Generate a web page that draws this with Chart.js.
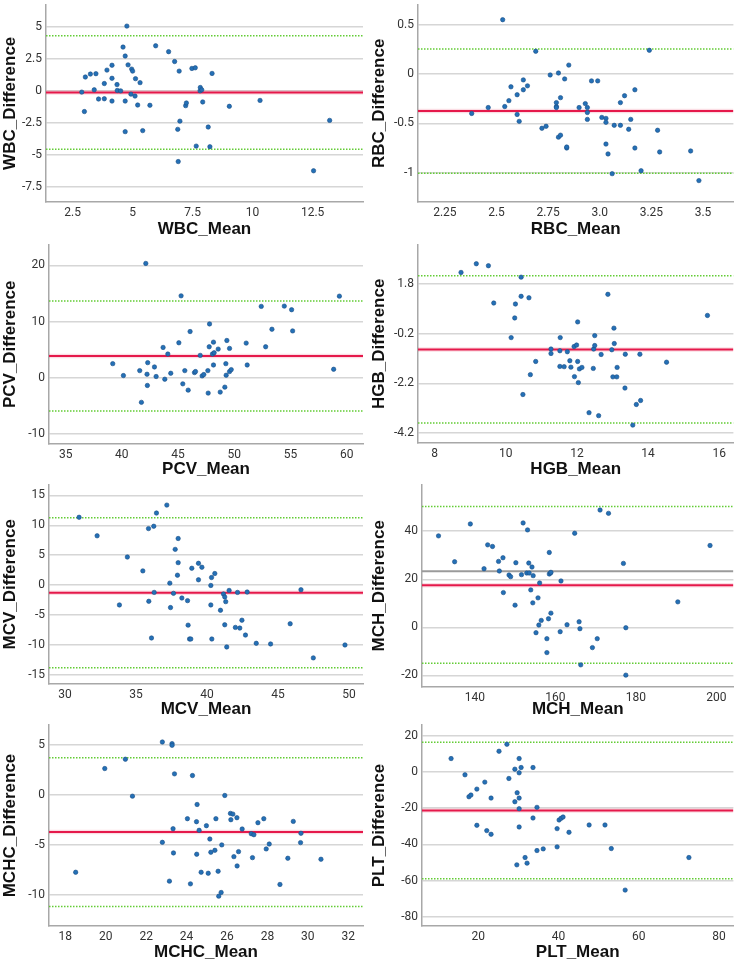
<!DOCTYPE html>
<html>
<head>
<meta charset="utf-8">
<script src="https://cdn.jsdelivr.net/npm/chart.js@4.4.1/dist/chart.umd.min.js"></script>
<style>
    html, body { margin: 0; padding: 0; background: #fff; }
    #wrap { position: relative; width: 738px; height: 963px; overflow: hidden; }
    .panel { position: absolute; }
</style>
</head>
<body>
<div id="wrap"></div>
<script>
// ---- WBC ----
const wbcMean = [2.88,2.99,3.03,3.24,3.40,3.47,3.58,3.82,3.82,3.93,4.14,4.14,4.14,4.35,4.36,4.50,4.60,4.69,4.69,4.69,4.76,4.81,4.93,4.96,5.00,5.10,5.12,5.21,5.31,5.42,5.72,5.96,6.50,6.75,6.88,6.90,6.94,6.97,7.21,7.24,7.47,7.61,7.65,7.81,7.82,7.88,7.92,8.15,8.22,8.31,9.03,10.31,12.54,13.21];
const wbcDiff = [-0.10,-1.62,1.08,1.31,0.08,1.34,-0.64,0.57,-0.62,1.62,2.00,0.98,-0.80,0.49,0.03,0.00,3.42,2.72,-0.80,-3.19,5.06,2.03,-0.26,1.70,1.54,-0.41,0.95,-1.11,0.64,-3.11,-1.13,3.52,3.06,2.29,-3.01,-5.53,1.54,-2.37,-1.16,-0.95,1.75,1.80,-4.32,0.00,0.26,0.08,-0.87,-2.83,-4.37,1.36,-1.21,-0.75,-6.25,-2.31];
const wbcLimits = [4.31, -0.13, -4.56];          // upper LoA, mean, lower LoA
const wbcXRange = [1.39, 14.6];
const wbcYRange = [-8.69, 6.74];
const wbcXTicks = [2.5, 5, 7.5, 10, 12.5];
const wbcXLabels = ['2.5', '5', '7.5', '10', '12.5'];
const wbcYTicks = [5, 2.5, 0, -2.5, -5, -7.5];
const wbcYLabels = ['5', '2.5', '0', '-2.5', '-5', '-7.5'];

// ---- RBC ----
const rbcMean = [2.38,2.46,2.53,2.54,2.56,2.57,2.60,2.60,2.61,2.63,2.63,2.65,2.69,2.72,2.74,2.76,2.79,2.79,2.79,2.80,2.81,2.80,2.81,2.83,2.84,2.84,2.85,2.90,2.93,2.94,2.94,2.94,2.96,2.99,3.01,3.03,3.03,3.03,3.04,3.06,3.07,3.10,3.10,3.12,3.14,3.15,3.17,3.17,3.20,3.24,3.28,3.29,3.44,3.48];
const rbcDiff = [-0.40,-0.34,0.55,-0.33,-0.27,-0.13,-0.21,-0.41,-0.48,-0.06,-0.16,-0.12,0.23,-0.55,-0.53,-0.01,-0.29,-0.33,-0.34,0.01,-0.24,-0.64,-0.62,-0.05,-0.75,-0.74,0.09,-0.34,-0.30,-0.39,-0.34,-0.46,-0.07,-0.07,-0.44,-0.45,-0.49,-0.71,-0.81,-1.01,-0.52,-0.52,-0.29,-0.22,-0.56,-0.46,-0.16,-0.75,-0.98,0.24,-0.57,-0.79,-0.78,-1.08];
const rbcLimits = [0.253, -0.376, -1.005];
const rbcXRange = [2.12, 3.647];
const rbcYRange = [-1.297, 0.703];
const rbcXTicks = [2.25, 2.5, 2.75, 3.0, 3.25, 3.5];
const rbcXLabels = ['2.25', '2.5', '2.75', '3.0', '3.25', '3.5'];
const rbcYTicks = [0.5, 0, -0.5, -1];
const rbcYLabels = ['0.5', '0', '-0.5', '-1'];

// ---- PCV ----
const pcvMean = [39.19,40.14,41.59,41.74,42.13,42.24,42.27,42.30,42.90,43.05,43.67,43.82,44.09,44.35,45.07,45.27,45.42,45.60,45.90,46.07,46.46,46.55,46.97,47.14,47.29,47.65,47.68,47.77,47.80,48.06,48.15,48.15,48.21,48.57,48.75,49.16,49.25,49.28,49.34,49.58,49.58,49.73,51.06,51.15,52.40,52.79,53.35,54.45,55.10,55.19,58.84,59.35];
const pcvDiff = [2.53,0.41,1.29,-4.35,20.35,0.65,-1.35,2.71,1.94,0.24,5.41,-0.24,4.24,0.82,6.24,14.59,-1.06,1.29,-2.18,8.24,0.94,1.12,4.00,0.35,0.59,1.29,-2.71,5.53,9.59,4.24,6.35,2.29,4.47,5.12,-2.53,-1.65,2.53,0.47,6.65,5.24,1.12,1.47,6.18,2.29,12.71,5.53,8.65,12.76,12.12,8.35,1.53,14.53];
const pcvLimits = [13.65, 3.88, -5.89];
const pcvXRange = [33.52, 61.45];
const pcvYRange = [-11.76, 23.7];
const pcvXTicks = [35, 40, 45, 50, 55, 60];
const pcvXLabels = ['35', '40', '45', '50', '55', '60'];
const pcvYTicks = [20, 10, 0, -10];
const pcvYLabels = ['20', '10', '0', '-10'];

// ---- HGB ----
const hgbMean = [8.74,9.17,9.51,9.66,10.15,10.25,10.27,10.43,10.43,10.48,10.65,10.69,10.84,11.27,11.27,11.52,11.52,11.53,11.64,11.73,11.80,11.83,11.92,11.93,11.99,12.02,12.02,12.04,12.07,12.14,12.34,12.46,12.47,12.50,12.50,12.61,12.68,12.87,12.98,13.01,13.04,13.05,13.12,13.13,13.35,13.36,13.57,13.67,13.77,13.79,14.52,15.67];
const hgbDiff = [2.26,2.61,2.53,1.03,-0.36,0.43,0.99,2.07,1.30,-2.65,1.24,-1.85,-1.32,-0.82,-1.00,-1.52,-0.89,-0.36,-1.53,-0.93,-1.29,-1.55,-0.72,-1.93,-0.66,0.27,-1.32,-2.17,-1.62,-1.56,-3.38,-1.60,-0.82,-0.28,-0.68,-3.50,-1.04,1.38,-0.85,-1.94,0.02,-0.60,-1.94,-1.56,-2.39,-1.03,-3.88,-3.05,-1.03,-2.89,-1.35,0.53];
const hgbLimits = [2.13, -0.835, -3.80];
const hgbXRange = [7.53, 16.40];
const hgbYRange = [-4.6, 3.38];
const hgbXTicks = [8, 10, 12, 14, 16];
const hgbXLabels = ['8', '10', '12', '14', '16'];
const hgbYTicks = [1.8, -0.2, -2.2, -4.2];
const hgbYLabels = ['1.8', '-0.2', '-2.2', '-4.2'];

// ---- MCV ----
const mcvMean = [30.99,32.26,33.83,34.39,35.48,35.88,35.90,36.09,36.25,36.28,36.44,37.17,37.38,37.43,37.64,37.76,37.92,37.97,37.97,38.23,38.63,38.67,38.77,38.86,38.93,39.40,39.40,39.64,40.27,40.27,40.32,40.34,40.55,40.95,41.16,41.25,41.25,41.32,41.39,41.56,42.00,42.15,42.31,42.46,42.71,42.83,43.47,44.48,45.86,46.62,47.49,49.72];
const mcvDiff = [11.35,8.25,-3.32,4.70,2.38,9.46,-2.71,-8.85,9.85,-1.22,12.06,13.39,0.33,-3.76,-1.38,5.98,1.66,7.80,3.76,-2.16,-2.60,-6.70,-9.02,-9.02,2.82,3.65,0.89,2.99,-0.06,-3.32,1.27,-9.02,1.94,-4.21,-1.49,-1.99,-6.64,-2.77,-10.35,-0.89,-7.08,-1.22,-7.19,-5.87,-8.36,-1.16,-9.74,-9.85,-6.47,-0.77,-12.18,-10.02];
const mcvLimits = [11.29, -1.30, -13.84];
const mcvXRange = [28.87, 50.99];
const mcvYRange = [-16.55, 16.82];
const mcvXTicks = [30, 35, 40, 45, 50];
const mcvXLabels = ['30', '35', '40', '45', '50'];
const mcvYTicks = [15, 10, 5, 0, -5, -10, -15];
const mcvYLabels = ['15', '10', '5', '0', '-5', '-10', '-15'];

// ---- MCH ----
const mchMean = [131.0,135.0,138.9,142.3,143.2,144.4,145.9,146.1,147.0,147.1,148.5,148.9,150.0,150.2,151.6,152.0,152.9,153.1,153.4,153.5,153.9,154.2,154.4,154.5,155.2,155.7,155.9,156.1,156.5,157.9,157.9,158.3,158.5,158.5,158.8,158.9,158.9,161.2,161.4,162.9,164.8,165.9,166.1,166.3,169.2,170.4,171.1,173.2,176.9,177.5,177.5,190.4,198.4];
const mchDiff = [38.07,27.31,43.03,24.41,34.34,33.66,27.45,23.45,28.97,14.48,21.79,21.10,9.24,26.90,21.93,43.45,22.62,40.55,26.76,22.62,15.59,25.10,10.21,21.52,-2.21,12.28,0.97,18.48,2.90,-4.69,-10.48,3.59,22.21,31.17,22.62,22.90,5.93,-1.79,19.31,1.10,39.17,2.34,-0.55,-15.59,-8.41,-4.69,48.83,47.45,26.62,-0.14,-19.86,10.62,34.07];
const mchLimits = [50.3, 17.5, -14.9];
const mchRefLine = [23.4];
const mchXRange = [126.9, 204.2];
const mchYRange = [-24.8, 59.4];
const mchXTicks = [140, 160, 180, 200];
const mchXLabels = ['140', '160', '180', '200'];
const mchYTicks = [40, 20, 0, -20];
const mchYLabels = ['40', '20', '0', '-20'];

// ---- MCHC ----
const mchcMean = [18.51,19.95,20.97,21.32,22.80,22.80,23.15,23.28,23.28,23.33,23.35,23.40,24.04,24.19,24.29,24.49,24.50,24.52,24.62,24.72,24.98,25.07,25.15,25.20,25.40,25.45,25.56,25.59,25.71,25.74,25.89,26.17,26.19,26.29,26.34,26.49,26.50,26.57,26.75,27.20,27.26,27.33,27.53,27.82,27.94,28.09,28.62,29.01,29.28,29.66,29.64,30.65];
const mchcDiff = [-7.72,2.64,3.57,-0.12,5.29,-4.73,-8.61,5.13,4.96,-3.37,-5.79,2.11,-2.37,-8.88,1.94,-2.67,-5.92,-0.95,-3.53,-7.72,-3.07,-7.82,-4.40,-5.72,-5.53,-2.37,-7.62,-10.11,-9.74,-4.99,-0.05,-1.84,-2.47,-1.91,-6.16,-2.27,-7.09,-5.66,-3.40,-3.87,-6.26,-3.97,-2.77,-2.37,-5.39,-4.90,-8.94,-6.32,-2.64,-3.83,-4.76,-6.42];
const mchcLimits = [3.73, -3.69, -11.13];
const mchcXRange = [17.19, 32.73];
const mchcYRange = [-13.09, 6.99];
const mchcXTicks = [18, 20, 22, 24, 26, 28, 30, 32];
const mchcXLabels = ['18', '20', '22', '24', '26', '28', '30', '32'];
const mchcYTicks = [5, 0, -5, -10];
const mchcYLabels = ['5', '0', '-5', '-10'];

// ---- PLT ----
const pltMean = [13.25,16.71,17.70,18.19,19.67,19.67,21.65,22.14,23.21,23.21,25.19,27.16,27.65,29.14,29.14,29.63,29.71,30.21,30.21,30.21,30.21,30.21,30.70,31.69,32.18,33.66,33.66,34.65,34.65,36.21,39.67,39.67,40.16,40.66,41.15,42.63,47.65,51.60,53.17,56.63,72.51];
const pltDiff = [7.36,-1.61,-13.70,-12.78,-9.49,-29.45,-5.64,-32.38,-14.43,-34.40,11.39,15.24,-3.63,1.50,-16.45,-51.25,-11.50,-14.43,7.36,-0.51,-20.29,-30.37,2.42,-47.22,-50.33,2.42,-25.42,-19.56,-43.37,-42.45,-41.34,-31.28,-26.52,-25.60,-24.87,-33.30,-29.27,-29.27,-42.27,-65.17,-47.22];
const pltLimits = [16.34, -21.3, -58.94];
const pltXRange = [6.0, 83.6];
const pltYRange = [-84.98, 25.86];
const pltXTicks = [20, 40, 60, 80];
const pltXLabels = ['20', '40', '60', '80'];
const pltYTicks = [20, 0, -20, -40, -60, -80];
const pltYLabels = ['20', '0', '-20', '-40', '-60', '-80'];

const panels = [
    { name: 'WBC',  x: wbcMean,  y: wbcDiff,  lim: wbcLimits,  xr: wbcXRange,  yr: wbcYRange,  xt: wbcXTicks,  xl: wbcXLabels,  yt: wbcYTicks,  yl: wbcYLabels },
    { name: 'RBC',  x: rbcMean,  y: rbcDiff,  lim: rbcLimits,  xr: rbcXRange,  yr: rbcYRange,  xt: rbcXTicks,  xl: rbcXLabels,  yt: rbcYTicks,  yl: rbcYLabels },
    { name: 'PCV',  x: pcvMean,  y: pcvDiff,  lim: pcvLimits,  xr: pcvXRange,  yr: pcvYRange,  xt: pcvXTicks,  xl: pcvXLabels,  yt: pcvYTicks,  yl: pcvYLabels },
    { name: 'HGB',  x: hgbMean,  y: hgbDiff,  lim: hgbLimits,  xr: hgbXRange,  yr: hgbYRange,  xt: hgbXTicks,  xl: hgbXLabels,  yt: hgbYTicks,  yl: hgbYLabels },
    { name: 'MCV',  x: mcvMean,  y: mcvDiff,  lim: mcvLimits,  xr: mcvXRange,  yr: mcvYRange,  xt: mcvXTicks,  xl: mcvXLabels,  yt: mcvYTicks,  yl: mcvYLabels },
    { name: 'MCH',  x: mchMean,  y: mchDiff,  lim: mchLimits,  xr: mchXRange,  yr: mchYRange,  xt: mchXTicks,  xl: mchXLabels,  yt: mchYTicks,  yl: mchYLabels, ref: mchRefLine },
    { name: 'MCHC', x: mchcMean, y: mchcDiff, lim: mchcLimits, xr: mchcXRange, yr: mchcYRange, xt: mchcXTicks, xl: mchcXLabels, yt: mchcYTicks, yl: mchcYLabels },
    { name: 'PLT',  x: pltMean,  y: pltDiff,  lim: pltLimits,  xr: pltXRange,  yr: pltYRange,  xt: pltXTicks,  xl: pltXLabels,  yt: pltYTicks,  yl: pltYLabels }
];

// panel boxes on the page and the plot area inside each (left, top, right, bottom)
const boxes = [
    { x: 0,   y: 0,   w: 369, h: 240, area: [46, 2, 363, 202] },
    { x: 369, y: 0,   w: 369, h: 240, area: [49, 2, 367, 202] },
    { x: 0,   y: 240, w: 369, h: 240, area: [49, 3, 363, 204] },
    { x: 369, y: 240, w: 369, h: 240, area: [49, 3, 367, 203] },
    { x: 0,   y: 480, w: 369, h: 240, area: [49, 3, 363, 204] },
    { x: 369, y: 480, w: 369, h: 240, area: [53, 3, 367, 207] },
    { x: 0,   y: 718, w: 369, h: 245, area: [49, 7, 363, 208] },
    { x: 369, y: 718, w: 369, h: 245, area: [53, 7, 367, 208] }
];

const TICK_FONT = { family: "'Liberation Sans Narrow', Roboto, sans-serif", size: 12 };
const TITLE_FONT = { family: "'Liberation Sans', Arial, sans-serif", size: 17, weight: 'bold' };

function hLine(p, v) {
    return [{ x: p.xr[0], y: v }, { x: p.xr[1], y: v }];
}

function makeChart(p, box) {
    const wrap = document.getElementById('wrap');
    const div = document.createElement('div');
    div.className = 'panel';
    div.style.left = box.x + 'px';
    div.style.top = box.y + 'px';
    div.style.width = box.w + 'px';
    div.style.height = box.h + 'px';
    const cv = document.createElement('canvas');
    div.appendChild(cv);
    wrap.appendChild(div);

    const [aL, aT, aR, aB] = box.area;
    const lineBase = { showLine: true, pointRadius: 0, fill: false };

    const datasets = [
        {
            data: p.x.map((v, i) => ({ x: v, y: p.y[i] })),
            pointRadius: 2.2,
            pointBackgroundColor: '#2470b6',
            pointBorderColor: '#1b4f86',
            pointBorderWidth: 0.6,
            order: 0
        },
        { ...lineBase, data: hLine(p, p.lim[1]), borderColor: '#e5194b', borderWidth: 2, order: 1 },
        { ...lineBase, data: hLine(p, p.lim[1]), borderColor: 'rgba(229,25,75,0.15)', borderWidth: 4.5, order: 2 },
        { ...lineBase, data: hLine(p, p.lim[0]), borderColor: '#63cc35', borderWidth: 1.5, borderDash: [1.5, 1.5], order: 3 },
        { ...lineBase, data: hLine(p, p.lim[2]), borderColor: '#63cc35', borderWidth: 1.5, borderDash: [1.5, 1.5], order: 3 }
    ];
    if (p.ref) {
        datasets.push({ ...lineBase, data: hLine(p, p.ref[0]), borderColor: '#9b9b9b', borderWidth: 2, order: 4 });
    }

    new Chart(cv, {
        type: 'scatter',
        data: { datasets },
        options: {
            responsive: true,
            maintainAspectRatio: false,
            animation: false,
            layout: { padding: { left: 0, top: aT, right: box.w - aR, bottom: 0 } },
            plugins: { legend: { display: false }, tooltip: { enabled: false } },
            scales: {
                x: {
                    type: 'linear',
                    min: p.xr[0],
                    max: p.xr[1],
                    afterBuildTicks: s => { s.ticks = p.xt.map(v => ({ value: v })); },
                    afterFit: s => { s.height = box.h - aB; s.paddingLeft = 0; s.paddingRight = 0; },
                    grid: { display: false, drawTicks: false },
                    border: { display: true, color: '#a8a8a8', width: 1.5 },
                    ticks: {
                        autoSkip: false, maxRotation: 0, padding: 4,
                        color: '#333', font: TICK_FONT,
                        callback: (v, i) => p.xl[i]
                    },
                    title: { display: true, text: p.name + '_Mean', color: '#111', font: TITLE_FONT, padding: 0 }
                },
                y: {
                    type: 'linear',
                    min: p.yr[0],
                    max: p.yr[1],
                    afterBuildTicks: s => { s.ticks = p.yt.map(v => ({ value: v })); },
                    afterFit: s => { s.width = aL; s.paddingTop = 0; s.paddingBottom = 0; },
                    grid: { color: '#d6d6d6', lineWidth: 1.5, drawTicks: false },
                    border: { display: true, color: '#a8a8a8', width: 1.5 },
                    ticks: {
                        padding: 4, color: '#333', font: TICK_FONT,
                        callback: (v, i) => p.yl[i]
                    },
                    title: { display: true, text: p.name + '_Difference', color: '#111', font: TITLE_FONT, padding: 0 }
                }
            }
        }
    });
}

panels.forEach((p, i) => makeChart(p, boxes[i]));
</script>
</body>
</html>
